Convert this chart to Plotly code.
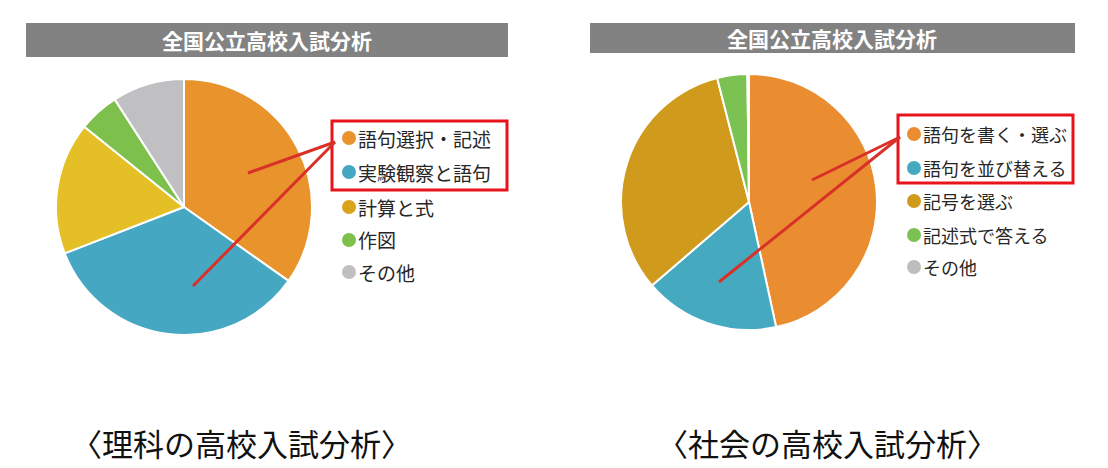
import plotly.graph_objects as go

W, H = 1108, 468

# ---- data ----
header_text = "全国公立高校入試分析"

sci_labels = ["語句選択・記述", "実験観察と語句", "計算と式", "作図", "その他"]
sci_values = [34.8, 34.3, 16.7, 5.1, 9.1]
sci_colors = ["#E8932B", "#45A7C1", "#E4BF25", "#7DC04B", "#C0BFC1"]
sci_legend_colors = ["#E8932B", "#45A7C1", "#D9A31C", "#7DC04B", "#C0BFC1"]
sci_caption = "〈理科の高校入試分析〉"

soc_labels = ["語句を書く・選ぶ", "語句を並び替える", "記号を選ぶ", "記述式で答える", "その他"]
soc_values = [46.6, 17.1, 32.3, 3.8, 0.2]
soc_colors = ["#EA8D31", "#45A9BF", "#D09B1D", "#7BC252", "#BDBDBD"]
soc_caption = "〈社会の高校入試分析〉"


def px(x):
    return x / W


def py(y):
    return 1 - y / H


fig = go.Figure()

def add_pie(labels, values, colors, cx, cy, r):
    fig.add_trace(go.Pie(
        labels=labels, values=values, sort=False, direction="clockwise", rotation=0,
        marker=dict(colors=colors, line=dict(color="white", width=2)),
        textinfo="none", hoverinfo="label+percent", showlegend=False,
        domain=dict(x=[px(cx - r), px(cx + r)], y=[py(cy + r), py(cy - r)]),
    ))

add_pie(sci_labels, sci_values, sci_colors, 184, 207, 128)
add_pie(soc_labels, soc_values, soc_colors, 749, 202, 128)

shapes = []
annotations = []

# header bars
for (x0, x1, y0, y1, tx) in [(26, 508, 23, 57, 267), (590, 1075, 23, 53, 832)]:
    shapes.append(dict(type="rect", xref="paper", yref="paper",
                       x0=px(x0), x1=px(x1), y0=py(y1), y1=py(y0),
                       fillcolor="#828282", line=dict(width=0), layer="below"))
    annotations.append(dict(text="<b>" + header_text + "</b>", xref="paper", yref="paper",
                            x=px(tx), y=py((y0 + y1) / 2), xanchor="center", yanchor="middle",
                            showarrow=False,
                            font=dict(family="Noto Sans CJK JP", size=21, color="white")))

# legends
def add_legend(labels, colors, mx, tx, rows, size):
    for lab, col, ry in zip(labels, colors, rows):
        shapes.append(dict(type="circle", xref="paper", yref="paper",
                           x0=px(mx - 7), x1=px(mx + 7), y0=py(ry + 7), y1=py(ry - 7),
                           fillcolor=col, line=dict(width=0)))
        annotations.append(dict(text=lab, xref="paper", yref="paper",
                                x=px(tx), y=py(ry), xanchor="left", yanchor="middle",
                                showarrow=False,
                                font=dict(family="Noto Sans CJK JP", size=size, color="#262626")))

add_legend(sci_labels, sci_legend_colors, 349, 356, [138, 172, 207, 240, 272], 19)
add_legend(soc_labels, soc_colors, 914, 921, [134, 168, 201, 235, 267], 18)

# red boxes
for (x0, x1, y0, y1) in [(332, 507, 121, 190), (898, 1073, 115, 183)]:
    shapes.append(dict(type="rect", xref="paper", yref="paper",
                       x0=px(x0), x1=px(x1), y0=py(y1), y1=py(y0),
                       line=dict(color="#E8141C", width=3)))

# pointer lines
for (x0, y0, x1, y1) in [(335, 142, 248, 173), (335, 142, 193, 286),
                         (900, 137, 812, 180), (900, 137, 719, 282)]:
    shapes.append(dict(type="line", xref="paper", yref="paper",
                       x0=px(x0), y0=py(y0), x1=px(x1), y1=py(y1),
                       line=dict(color="#D9302A", width=3)))

# captions
for (cap, cx) in [(sci_caption, 241), (soc_caption, 827)]:
    annotations.append(dict(text=cap, xref="paper", yref="paper",
                            x=px(cx), y=py(442), xanchor="center", yanchor="middle",
                            showarrow=False,
                            font=dict(family="Noto Sans CJK JP", size=31, color="#111111")))

fig.update_layout(
    width=W, height=H, margin=dict(l=0, r=0, t=0, b=0),
    paper_bgcolor="white", plot_bgcolor="white",
    shapes=shapes, annotations=annotations,
)

fig.write_html("out.html", config={"displayModeBar": False},
               post_script="document.body.style.margin='0';document.body.style.overflow='hidden';")
